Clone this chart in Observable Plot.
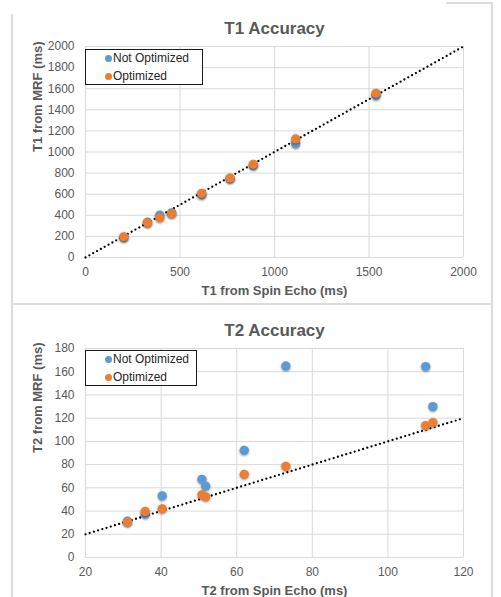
<!DOCTYPE html>
<html>
<head>
<meta charset="utf-8">
<script src="https://cdn.jsdelivr.net/npm/d3@7"></script>
<script src="https://cdn.jsdelivr.net/npm/@observablehq/plot@0.6"></script>
<style>
  html, body { margin: 0; padding: 0; background: #fff; }
  #wrap { position: relative; width: 501px; height: 597px; overflow: hidden; font-family: "Liberation Sans", Arial, sans-serif; }
  .panel { position: absolute; left: 0; }
  .line { position: absolute; background: #dcdcdc; }
  .legend { position: absolute; border: 1.5px solid #1a1a1a; background: #fff; box-sizing: border-box; font-size: 12px; color: #262626; }
  .legend .item { position: absolute; left: 19px; white-space: nowrap; line-height: 14px; }
  .legend .sw { display: inline-block; width: 7px; height: 7px; border-radius: 50%; margin-right: 1px; vertical-align: 0px; }
  svg g[aria-label="dot"] { filter: drop-shadow(0.8px 1.2px 0.8px rgba(0,0,0,0.45)); }
</style>
</head>
<body>
<div id="wrap"></div>
<script>
// ---- data ----
const seriesNames = ["Not Optimized", "Optimized"];
const seriesColors = ["#5B9BD5", "#ED7D31"];

// T1 (ms)
const t1SpinEcho       = [203, 328, 393, 456, 615, 765, 888, 1112, 1537];
const t1NotOptimized   = [190, 335, 402, 424, 595, 747, 873, 1079, 1535];
const t1Optimized      = [196, 329, 377, 415, 608, 753, 883, 1124, 1557];
const t1XTicks = [0, 500, 1000, 1500, 2000];
const t1YTicks = [0, 200, 400, 600, 800, 1000, 1200, 1400, 1600, 1800, 2000];
const t1Identity = [0, 2000];

// T2 (ms)
const t2SpinEcho       = [31.1, 35.8, 40.3, 50.8, 51.8, 62.0, 73.0, 110.0, 111.9];
const t2NotOptimized   = [31.3, 37.4, 53.2, 67.3, 61.5, 92.3, 165, 164.5, 130];
const t2Optimized      = [30.5, 39.7, 42.0, 54.0, 52.3, 71.6, 78.5, 113.6, 116.2];
const t2XTicks = [20, 40, 60, 80, 100, 120];
const t2YTicks = [0, 20, 40, 60, 80, 100, 120, 140, 160, 180];
const t2Identity = [20, 120];

const FONT = "'Liberation Sans', Arial, sans-serif";

function makePanel(cfg) {
  const blue = cfg.xs.map((x, i) => ({x, y: cfg.notOpt[i]}));
  const orange = cfg.xs.map((x, i) => ({x, y: cfg.opt[i]}));
  const line = cfg.identity.map(v => ({x: v, y: v}));
  return Plot.plot({
    width: 480,
    height: cfg.height,
    marginLeft: 85,
    marginRight: 17,
    marginTop: cfg.marginTop,
    marginBottom: cfg.marginBottom,
    style: {fontFamily: FONT, fontSize: "12px", color: "#595959", background: "transparent", overflow: "visible"},
    x: {domain: cfg.xDomain, label: null, axis: null},
    y: {domain: cfg.yDomain, label: null, axis: null},
    marks: [
      Plot.gridX(cfg.xTicks, {stroke: "#d9d9d9", strokeOpacity: 1, strokeWidth: 1}),
      Plot.gridY(cfg.yTicks, {stroke: "#d9d9d9", strokeOpacity: 1, strokeWidth: 1}),
      Plot.axisX({ticks: cfg.xTicks, tickFormat: d => String(d), tickSize: 0, tickPadding: 10, fontSize: 12, fill: "#595959", label: null}),
      Plot.axisY({ticks: cfg.yTicks, tickFormat: d => String(d), tickSize: 0, tickPadding: 11, fontSize: 12, fill: "#595959", label: null}),
      Plot.line(line, {x: "x", y: "y", stroke: "#000", strokeWidth: 2.3, strokeLinecap: "round", strokeDasharray: "0,4.4"}),
      Plot.dot(blue, {x: "x", y: "y", r: 4.6, fill: seriesColors[0], stroke: "none"}),
      Plot.dot(orange, {x: "x", y: "y", r: 4.6, fill: seriesColors[1], stroke: "none"}),
      Plot.text([cfg.title], {text: d => d, frameAnchor: "top", dy: cfg.titleDy, fontSize: 17, fontWeight: "bold", fill: "#595959", lineAnchor: "middle"}),
      Plot.text([cfg.xLabel], {text: d => d, frameAnchor: "bottom", dy: 33, fontSize: 13, fontWeight: "bold", fill: "#595959", lineAnchor: "middle"}),
      Plot.text([cfg.yLabel], {text: d => d, frameAnchor: "left", dx: -48, rotate: -90, fontSize: 13, fontWeight: "bold", fill: "#595959", lineAnchor: "middle"})
    ]
  });
}

const wrap = document.getElementById("wrap");

const p1 = makePanel({
  xs: t1SpinEcho, notOpt: t1NotOptimized, opt: t1Optimized,
  xDomain: [0, 2000], yDomain: [0, 2000], xTicks: t1XTicks, yTicks: t1YTicks,
  identity: t1Identity, height: 300, marginTop: 46, marginBottom: 43, titleDy: -18,
  title: "T1 Accuracy", xLabel: "T1 from Spin Echo (ms)", yLabel: "T1 from MRF (ms)"
});
p1.classList.add("panel"); p1.style.top = "0px";
wrap.appendChild(p1);

const p2 = makePanel({
  xs: t2SpinEcho, notOpt: t2NotOptimized, opt: t2Optimized,
  xDomain: [20, 120], yDomain: [0, 180], xTicks: t2XTicks, yTicks: t2YTicks,
  identity: t2Identity, height: 292, marginTop: 43, marginBottom: 40, titleDy: -18,
  title: "T2 Accuracy", xLabel: "T2 from Spin Echo (ms)", yLabel: "T2 from MRF (ms)"
});
p2.classList.add("panel"); p2.style.top = "305px";
wrap.appendChild(p2);

// frame lines
function addLine(l, t, w, h) {
  const d = document.createElement("div");
  d.className = "line";
  Object.assign(d.style, {left: l + "px", top: t + "px", width: w + "px", height: h + "px"});
  wrap.appendChild(d);
}
addLine(11, 14, 1.5, 583);
addLine(491, 2, 1.5, 595);
addLine(446, 2, 46, 1.5);
addLine(12, 303, 480, 2);

// legends
function addLegend(l, t, w, h) {
  const d = document.createElement("div");
  d.className = "legend";
  Object.assign(d.style, {left: l + "px", top: t + "px", width: w + "px", height: h + "px"});
  seriesNames.forEach((name, i) => {
    const it = document.createElement("div");
    it.className = "item";
    it.style.top = (i === 0 ? 1 : 19) + "px";
    const sw = document.createElement("span");
    sw.className = "sw";
    sw.style.background = seriesColors[i];
    it.appendChild(sw);
    it.appendChild(document.createTextNode(name));
    d.appendChild(it);
  });
  wrap.appendChild(d);
}
addLegend(85, 49, 118, 36);
addLegend(85, 350, 112, 36);
</script>
</body>
</html>
